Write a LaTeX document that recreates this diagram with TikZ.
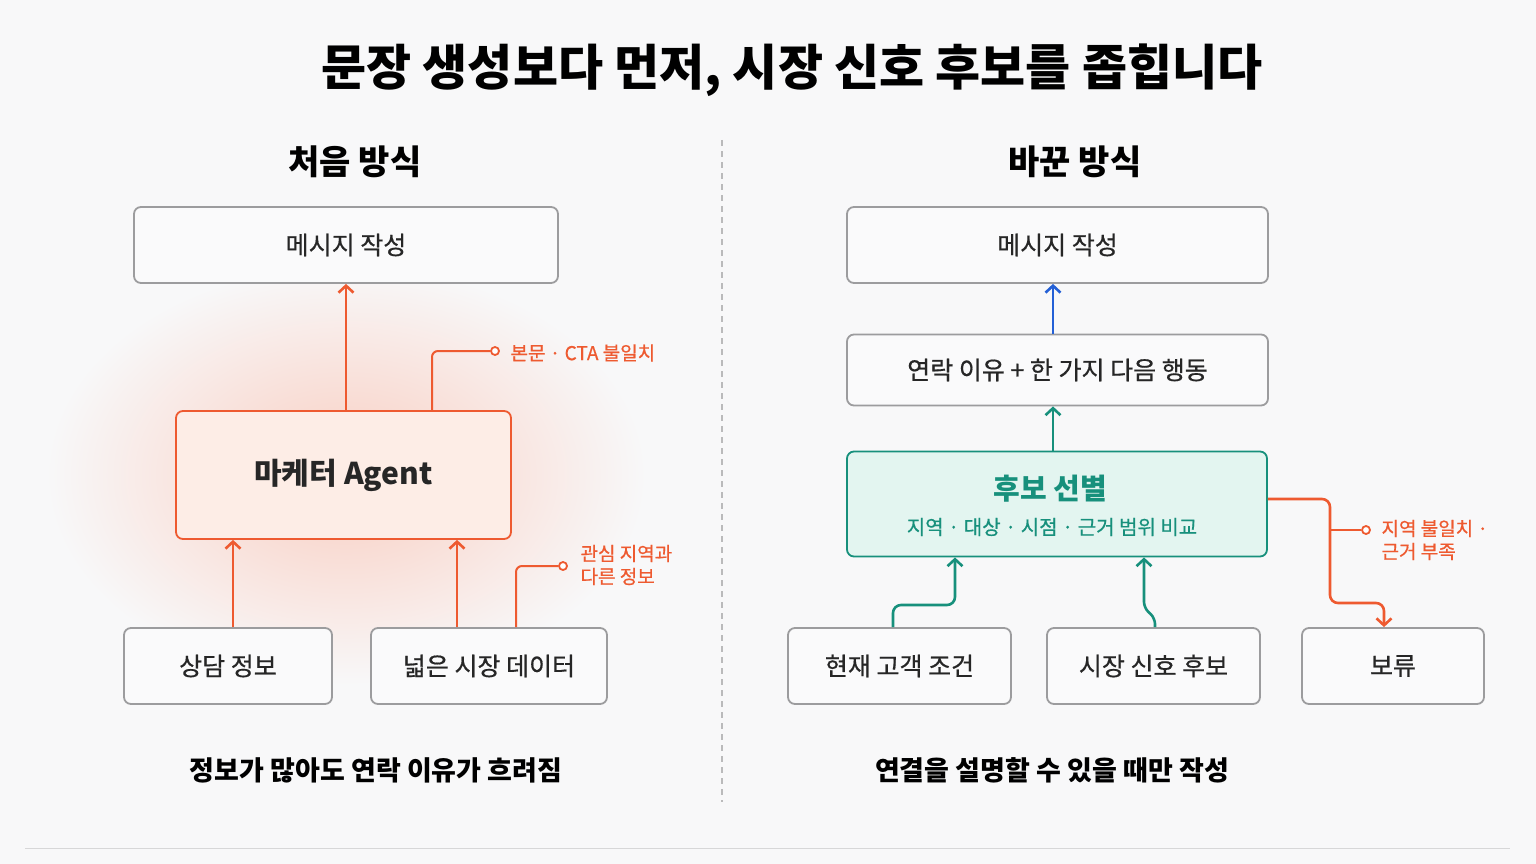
\documentclass[tikz,border=0pt]{standalone}
\usepackage{fontspec}
\setmainfont{Noto Sans CJK KR}
\newfontfamily\medfont{Noto Sans CJK KR}[FakeBold=0.6]
\usetikzlibrary{arrows.meta,positioning,calc}
\definecolor{bgcolor}{HTML}{F8F8F9}
\definecolor{boxline}{HTML}{9C9C9E}
\definecolor{boxfill}{HTML}{FAFAFB}
\definecolor{warncolor}{HTML}{EE5A30}
\definecolor{tealcolor}{HTML}{17907C}
\definecolor{tealfill}{HTML}{E3F5F0}
\definecolor{bluecolor}{HTML}{2460D6}
\definecolor{agentfill}{HTML}{FDEDE6}
\tikzset{
  box/.style={draw=boxline,fill=boxfill,line width=1.8pt,rounded corners=7pt,
    minimum height=#1,font=\medfont\fontsize{25}{29}\selectfont,text=black!85},
  box/.default=76pt,
  link/.style={line width=2.6pt,-{Straight Barb[length=7pt,width=15pt]}},
  note/.style={font=\medfont\fontsize{19}{23}\selectfont,text=warncolor,anchor=west},
  dot/.style={circle,draw=warncolor,fill=white,line width=1.8pt,inner sep=0pt,minimum size=8pt},
}
\begin{document}
\begin{tikzpicture}[x=1pt,y=-1pt]
\fill[bgcolor] (0,0) rectangle (1536,864);
\useasboundingbox (0,0) rectangle (1536,864);
% glow
\shade[inner color=warncolor!30,outer color=bgcolor] (346,475) ellipse (300 and 210);
% titles
\node[font=\bfseries\fontsize{49}{53}\selectfont] (title) at (792,70) {문장 생성보다 먼저, 시장 신호 후보를 좁힙니다};
\node[font=\bfseries\fontsize{34}{38}\selectfont] (lhead) at (355,162) {처음 방식};
\node[font=\bfseries\fontsize{34}{38}\selectfont] (rhead) at (1075,162) {바꾼 방식};
\draw[boxline!70,line width=1.2pt,dash pattern=on 6pt off 5pt] (722,140) -- (722,802);
\draw[boxline!40,line width=1pt] (25,848) -- (1510,848);
% left side
\node[box,minimum width=424pt] (lmsg) at (346,245) {메시지 작성};
\node[box=128pt,minimum width=335pt,draw=warncolor,fill=agentfill,
  font=\bfseries\fontsize{30}{34}\selectfont] (agent) at (343.5,475) {마케터 Agent};
\node[box,minimum width=208pt] (consult) at (228,666) {상담 정보};
\node[box,minimum width=236pt] (wide) at (489,666) {넓은 시장 데이터};
\draw[link,warncolor] (agent.north -| lmsg) -- (lmsg.south);
\draw[link,warncolor] (consult.north -| 233,0) -- (agent.south -| 233,0);
\draw[link,warncolor] (wide.north -| 457,0) -- (agent.south -| 457,0);
\node[dot] (d1) at (495,351) {};
\draw[warncolor,line width=2pt,rounded corners=6pt] (agent.north -| 432,0) |- (d1);
\node[note] (n1) at (507,353) {본문 · CTA 불일치};
\node[dot] (d2) at (563,566) {};
\draw[warncolor,line width=2pt,rounded corners=6pt] (wide.north -| 516,0) |- (d2);
\node[note,align=left] (n2) at (577,565) {관심 지역과\\다른 정보};
\node[font=\bfseries\fontsize{27}{31}\selectfont] (lcap) at (376,770) {정보가 많아도 연락 이유가 흐려짐};
% right side
\node[box,minimum width=421pt] (rmsg) at (1057.5,245) {메시지 작성};
\node[box=71pt,minimum width=421pt] (reason) at (1057.5,370) {연락 이유 + 한 가지 다음 행동};
\node[box=105pt,minimum width=420pt,draw=tealcolor,fill=tealfill] (select) at (1057,504) {};
\node[font=\bfseries\fontsize{29}{33}\selectfont,text=tealcolor] (seltitle) at (1050,489) {후보 선별};
\node[font=\medfont\fontsize{20}{24}\selectfont,text=tealcolor] (selsub) at (1052,527) {지역 · 대상 · 시점 · 근거 범위 비교};
\node[box,minimum width=223pt] (cust) at (899.5,666) {현재 고객 조건};
\node[box,minimum width=213pt] (signal) at (1153.5,666) {시장 신호 후보};
\node[box,minimum width=182pt] (hold) at (1393,666) {보류};
\draw[link,bluecolor] (reason.north -| 1053,0) -- (rmsg.south -| 1053,0);
\draw[link,tealcolor] (select.north -| 1053,0) -- (reason.south -| 1053,0);
\draw[link,tealcolor,rounded corners=8pt] (cust.north -| 893,0) -- (893,605) -- (955,605) -- (select.south -| 955,0);
\draw[link,tealcolor,rounded corners=6pt] (signal.north -| 1155,0) -- (1155,618) -- (1144,608) -- (select.south -| 1144,0);
\draw[link,warncolor,rounded corners=8pt] (select.east |- 0,499) -- (1330,499) -- (1330,603) -- (1384,603) -- (hold.north -| 1384,0);
\node[dot] (d3) at (1366,530) {};
\draw[warncolor,line width=2pt] (1330,530) -- (d3);
\node[note,align=left] (n3) at (1378,540) {지역 불일치 ·\\근거 부족};
\node[font=\bfseries\fontsize{27}{31}\selectfont] (rcap) at (1052,770) {연결을 설명할 수 있을 때만 작성};
\end{tikzpicture}
\end{document}
